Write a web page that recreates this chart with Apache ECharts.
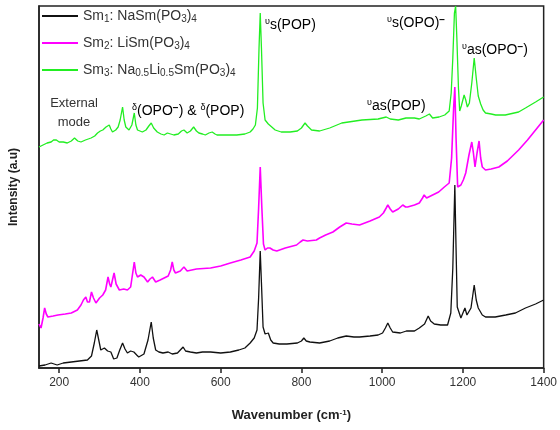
<!DOCTYPE html>
<html>
<head>
<meta charset="utf-8">
<script src="https://cdn.jsdelivr.net/npm/echarts@6/dist/echarts.min.js"></script>
<style>
  html, body { margin: 0; padding: 0; background: #fff; }
  #chart { width: 560px; height: 430px; }
</style>
</head>
<body>
<div id="chart"></div>
<script>
// x ticks
var xTicks = [200, 400, 600, 800, 1000, 1200, 1400];

// Sm1 : NaSm(PO3)4  (black)
var sm1Wave = [150, 165, 180, 195, 210, 230, 250, 270, 280, 287, 293, 298, 303, 312, 320, 328, 335, 343, 350, 357, 363, 369, 377, 385, 392, 397, 410, 420, 428, 433, 439, 447, 457, 470, 480, 493, 500, 507, 513, 525, 540, 555, 575, 600, 624, 645, 660, 673, 683, 690, 694, 698, 701, 705, 710, 718, 724, 730, 745, 764, 790, 800, 806, 812, 821, 845, 870, 890, 911, 930, 944, 970, 990, 1001, 1008, 1014, 1020, 1026, 1045, 1060, 1067, 1080, 1092, 1105, 1114, 1120, 1129, 1145, 1162, 1170, 1175, 1180, 1183, 1186, 1195, 1200, 1205, 1210, 1213, 1220, 1228, 1233, 1238, 1248, 1256, 1280, 1306, 1330, 1355, 1380, 1400];
var sm1Int = [2, 3, 5, 3, 5, 6, 7, 8, 12, 25, 38, 28, 18, 20, 17, 16, 9, 10, 18, 25, 19, 15, 17, 16, 13, 11, 14, 28, 46, 30, 18, 16, 15, 16, 14, 15, 18, 21, 17, 16, 15, 16, 16, 15, 16, 18, 20, 25, 30, 38, 70, 117, 85, 41, 34, 35, 28, 25, 24, 24, 25, 27, 30, 27, 26, 25, 27, 30, 32, 31, 31, 32, 33, 35, 40, 45, 40, 36, 35, 37, 37, 37, 40, 44, 52, 47, 44, 43, 43, 55, 100, 183, 120, 61, 50, 55, 60, 53, 51, 60, 83, 68, 60, 53, 51, 51, 53, 55, 60, 64, 68];

// Sm2 : LiSm(PO3)4  (magenta)
var sm2Wave = [150, 155, 160, 164, 168, 172, 185, 197, 215, 230, 245, 254, 260, 266, 270, 275, 280, 285, 291, 300, 308, 315, 321, 325, 328, 332, 336, 341, 349, 360, 369, 377, 381, 386, 390, 394, 402, 410, 419, 425, 431, 439, 450, 460, 470, 476, 480, 484, 488, 500, 509, 517, 540, 575, 600, 624, 650, 673, 683, 690, 694, 698, 702, 706, 710, 716, 722, 730, 739, 760, 788, 797, 804, 815, 837, 845, 860, 878, 895, 911, 925, 944, 970, 993, 1003, 1010, 1014, 1020, 1026, 1040, 1051, 1058, 1063, 1080, 1092, 1100, 1104, 1110, 1125, 1140, 1154, 1166, 1172, 1177, 1180, 1183, 1187, 1195, 1201, 1207, 1215, 1222, 1226, 1230, 1235, 1240, 1244, 1248, 1256, 1270, 1289, 1310, 1338, 1360, 1380, 1400];
var sm2Int = [44, 40, 50, 60, 54, 51, 52, 53, 54, 55, 58, 63, 68, 71, 66, 66, 76, 70, 65, 70, 73, 78, 91, 84, 81, 88, 95, 84, 78, 79, 78, 81, 92, 106, 95, 91, 93, 91, 86, 89, 91, 86, 88, 90, 92, 98, 106, 98, 95, 97, 101, 97, 99, 100, 102, 105, 108, 111, 117, 125, 160, 201, 160, 124, 118, 120, 120, 118, 117, 120, 123, 126, 128, 127, 128, 130, 133, 136, 141, 145, 144, 143, 147, 151, 155, 160, 163, 159, 156, 159, 163, 161, 161, 163, 165, 170, 173, 170, 173, 176, 181, 185, 210, 260, 281, 230, 181, 183, 188, 195, 213, 226, 215, 201, 215, 227, 210, 201, 198, 199, 201, 207, 218, 228, 238, 248];

// Sm3 : Na0.5Li0.5Sm(PO3)4  (green)
var sm3Wave = [150, 160, 170, 180, 186, 193, 200, 210, 220, 230, 238, 246, 254, 265, 279, 288, 295, 302, 308, 316, 324, 328, 332, 340, 346, 351, 357, 361, 365, 373, 380, 386, 390, 394, 400, 406, 415, 422, 428, 434, 443, 452, 460, 468, 476, 484, 495, 503, 509, 517, 525, 533, 540, 546, 555, 562, 571, 579, 586, 591, 610, 640, 660, 673, 680, 686, 691, 695, 698, 701, 705, 710, 714, 718, 722, 735, 750, 772, 790, 800, 809, 815, 825, 845, 870, 900, 950, 990, 1010, 1020, 1040, 1059, 1080, 1092, 1108, 1117, 1125, 1141, 1155, 1166, 1171, 1175, 1179, 1182, 1185, 1189, 1192, 1196, 1203, 1207, 1211, 1216, 1222, 1228, 1233, 1238, 1244, 1250, 1256, 1270, 1281, 1305, 1338, 1355, 1380, 1400];
var sm3Int = [221, 223, 225, 226, 228, 228, 226, 226, 225, 227, 230, 227, 226, 228, 230, 232, 235, 237, 238, 241, 243, 239, 236, 238, 241, 248, 261, 248, 241, 238, 243, 255, 243, 238, 237, 236, 238, 242, 245, 240, 236, 234, 233, 235, 234, 233, 234, 237, 238, 235, 237, 241, 237, 235, 234, 233, 235, 236, 234, 233, 233, 233, 234, 236, 239, 243, 260, 320, 355, 320, 265, 248, 246, 244, 245, 238, 236, 236, 237, 240, 245, 242, 238, 237, 240, 245, 248, 249, 251, 249, 248, 250, 250, 249, 252, 254, 250, 251, 253, 257, 275, 310, 355, 362, 330, 280, 257, 262, 273, 268, 261, 265, 285, 310, 290, 272, 264, 258, 255, 254, 253, 253, 256, 260, 266, 271];

function pairs(w, v) {
  return w.map(function (x, i) { return [x, v[i]]; });
}

var chart = echarts.init(document.getElementById('chart'));

var txt = '#333';
var font = 'Arial, "Liberation Sans", sans-serif';
var baseRich = {
  t: { fontSize: 14, lineHeight: 16, color: txt, fontFamily: font },
  s: { fontSize: 10, lineHeight: 10, verticalAlign: 'bottom', color: txt, fontFamily: font },
  u: { fontSize: 9, lineHeight: 9, verticalAlign: 'top', color: txt, fontFamily: font },
  m: { fontSize: 10, lineHeight: 8, verticalAlign: 'top', color: txt, fontFamily: font, fontWeight: 'bold' }
};

var legendText = {
  'Sm1': '{t|Sm}{s|1}{t|: NaSm(PO}{s|3}{t|)}{s|4}',
  'Sm2': '{t|Sm}{s|2}{t|: LiSm(PO}{s|3}{t|)}{s|4}',
  'Sm3': '{t|Sm}{s|3}{t|: Na}{s|0.5}{t|Li}{s|0.5}{t|Sm(PO}{s|3}{t|)}{s|4}'
};

function note(x, y, text) {
  return {
    type: 'text', x: x, y: y, z: 10,
    style: { text: text, rich: baseRich, verticalAlign: 'middle', align: 'left' }
  };
}

var option = {
  animation: false,
  grid: {
    left: 39, right: 15, top: 6, bottom: 62,
    show: true, borderColor: '#222', borderWidth: 1.5
  },
  legend: {
    orient: 'vertical',
    left: 37, top: 4,
    icon: 'rect',
    itemWidth: 36, itemHeight: 2,
    itemGap: 12,
    data: ['Sm1', 'Sm2', 'Sm3'],
    formatter: function (name) { return legendText[name]; },
    textStyle: { rich: baseRich }
  },
  xAxis: {
    type: 'value',
    min: 150, max: 1400,
    name: 'Wavenumber (cm{sup|-1})',
    nameLocation: 'middle',
    nameGap: 41,
    nameTextStyle: {
      fontSize: 13, fontWeight: 'bold', color: '#222', fontFamily: font,
      rich: { sup: { fontSize: 8, verticalAlign: 'top', lineHeight: 8, fontWeight: 'bold', color: '#222' } }
    },
    axisLine: { lineStyle: { color: '#222', width: 1.5 } },
    axisTick: { show: true, inside: false, length: 5, customValues: xTicks, lineStyle: { color: '#222', width: 1.5 } },
    axisLabel: {
      customValues: xTicks, margin: 9, fontSize: 12, color: '#333', fontFamily: font,
      formatter: function (v) { return String(v); }
    },
    splitLine: { show: false }
  },
  yAxis: {
    type: 'value',
    min: 0, max: 362,
    name: 'Intensity (a.u)',
    nameLocation: 'middle',
    nameGap: 19,
    nameTextStyle: { fontSize: 12, fontWeight: 'bold', color: '#222', fontFamily: font },
    axisLine: { show: true, lineStyle: { color: '#222', width: 1.5 } },
    axisTick: { show: false },
    axisLabel: { show: false },
    splitLine: { show: false }
  },
  series: [
    {
      name: 'Sm1', type: 'line', showSymbol: false,
      data: pairs(sm1Wave, sm1Int),
      lineStyle: { color: '#111', width: 1.3 }, itemStyle: { color: '#111' }
    },
    {
      name: 'Sm2', type: 'line', showSymbol: false,
      data: pairs(sm2Wave, sm2Int),
      lineStyle: { color: '#ff00ff', width: 1.6 }, itemStyle: { color: '#ff00ff' }
    },
    {
      name: 'Sm3', type: 'line', showSymbol: false,
      data: pairs(sm3Wave, sm3Int),
      lineStyle: { color: '#22ee22', width: 1.3 }, itemStyle: { color: '#22ee22' }
    }
  ],
  graphic: [
    { type: 'text', x: 74, y: 113, z: 10,
      style: { text: 'External\nmode', align: 'center', verticalAlign: 'middle', fontSize: 13, lineHeight: 19, fill: txt, fontFamily: font } },
    note(132, 111, '{u|δ}{t|(OPO}{m|−}{t|) & }{u|δ}{t|(POP)}'),
    note(265, 25, '{u|υ}{t|s(POP)}'),
    note(367, 106, '{u|υ}{t|as(POP)}'),
    note(387, 23, '{u|υ}{t|s(OPO)}{m|−}'),
    note(462, 50, '{u|υ}{t|as(OPO}{m|−}{t|)}')
  ]
};

chart.setOption(option);
</script>
</body>
</html>
